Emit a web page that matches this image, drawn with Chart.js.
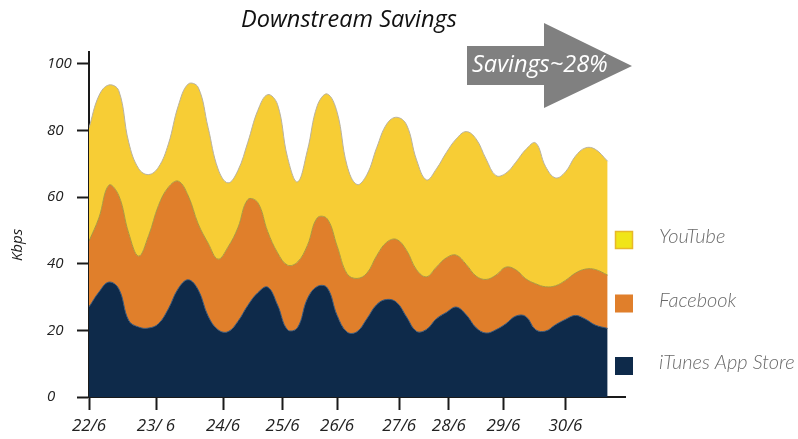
<!DOCTYPE html>
<html>
<head>
<meta charset="utf-8">
<style>
  html, body { margin: 0; padding: 0; background: #ffffff; }
  #wrap { width: 798px; height: 439px; position: relative; }
</style>
<script src="https://cdn.jsdelivr.net/npm/chart.js@4.4.1/dist/chart.umd.min.js"></script>
</head>
<body>
<div id="wrap"><canvas id="c" width="798" height="439"></canvas></div>
<script>
// ---- data (hours since 22/6 00:00) ----
const hours = [0,4,8,12,16,20,24,28,32,36,40,44,48,52,56,60,64,68,72,76,80,84,88,92,96,100,104,108,112,116,120,124,128,132,136,140,144,148,152,156,160,164,168,172,176,180,184,188,192,196,200,204,209];
const itunes = [27,31.5,34.5,32.5,23,21,20.7,22,26.5,32.6,35.2,32.2,24.3,20.2,19.6,22.7,27.5,31.3,33,27.6,20.2,20.8,29.5,33.2,32.8,24.5,19.5,19.6,23.5,27.8,29.3,28.4,24,19.7,20.3,23.5,25.4,27,24.7,20.8,19.2,20.2,22,24.3,24.2,20.2,19.8,21.7,23.3,24.5,23.4,21.6,20.6];
const facebook = [19.8,22.3,29.1,28,26.2,21.3,27.7,35.5,36.5,32.2,25.2,19.8,21.9,21.2,25.4,28.1,31.8,27.1,16.7,15.7,19.4,19.7,16,20.6,20.7,20.8,17.5,16,13.7,14.7,17.2,18.9,20,18.5,15.8,15.5,16.4,15.6,15.1,15.5,16.1,16.4,17,13.9,11.3,13.8,13.3,11.7,11.7,12.7,15,16.7,16];
const youtube = [34,36.7,30.1,31.5,27.3,26.3,18.4,11.5,13,22.7,33.6,41,34.7,27.1,19.3,17.2,17.2,27.6,41.1,44.5,32.4,24.1,28.5,33.7,37.5,40.2,32.5,28.2,29.6,32.5,35.5,36.7,37.7,33,29.1,29.5,31.6,34.9,39.9,41.2,36.2,29.9,28.2,32.3,38.8,42.3,36.1,32.4,32.6,35.1,36.4,36.1,34.2];
const tickHours = [0,27,54,78,100,125,145,167,192];
const tickLabels = ['22/6','23/ 6','24/6','25/6','26/6','27/6','28/6','29/6','30/6'];
const yTicks = [0,20,40,60,80,100];
const seriesNames = ['iTunes App Store','Facebook','YouTube'];
const titleText = 'Downstream Savings';
const arrowText = 'Savings~28%';
const yTitle = 'Kbps';

const AXIS = '#1a1a1a';
const TXT = '#222222';

function pts(arr){ return hours.map((h,i)=>({x:h, y:arr[i]})); }

const extras = {
  id: 'extras',
  afterDraw(chart){
    const ctx = chart.ctx;
    ctx.save();
    // title
    ctx.fillStyle = '#111';
    ctx.font = 'italic 23.5px "Open Sans"';
    ctx.textAlign = 'center';
    ctx.textBaseline = 'middle';
    ctx.fillText(titleText, 349, 20);
    // y title
    ctx.save();
    ctx.translate(18, 245);
    ctx.rotate(-Math.PI/2);
    ctx.font = 'italic 15px "Open Sans"';
    ctx.fillStyle = TXT;
    ctx.fillText(yTitle, 0, 0);
    ctx.restore();
    // arrow
    ctx.fillStyle = '#808080';
    ctx.beginPath();
    ctx.moveTo(467, 46);
    ctx.lineTo(544, 46);
    ctx.lineTo(544, 23);
    ctx.lineTo(632, 66);
    ctx.lineTo(544, 108);
    ctx.lineTo(544, 85);
    ctx.lineTo(467, 85);
    ctx.closePath();
    ctx.fill();
    ctx.fillStyle = '#ffffff';
    ctx.font = 'italic 23.5px "Open Sans"';
    ctx.textAlign = 'left';
    ctx.fillText(arrowText, 472, 65);
    // legend
    const ds = chart.data.datasets;
    const order = [2,1,0];
    const ys = [240, 303.5, 366];
    order.forEach((di,k)=>{
      const d = ds[di];
      const cy = ys[k];
      ctx.fillStyle = d.legendFill || d.backgroundColor;
      ctx.fillRect(615, cy-9, 18, 18);
      if (d.legendStroke){
        ctx.strokeStyle = d.legendStroke;
        ctx.lineWidth = 1.5;
        ctx.strokeRect(615.5, cy-8.5, 17, 17);
      }
      ctx.fillStyle = '#6a6a6a';
      ctx.font = 'italic 300 20px Lato';
      ctx.textAlign = 'left';
      ctx.textBaseline = 'middle';
      ctx.fillText(d.label, 659, cy-3);
    });
    ctx.restore();
  }
};

new Chart(document.getElementById('c'), {
  type: 'line',
  data: {
    datasets: [
      { label: seriesNames[0], data: pts(itunes), backgroundColor: '#0e2a4a', borderColor: '#3a5675', borderWidth: 1, fill: 'origin' },
      { label: seriesNames[1], data: pts(facebook), backgroundColor: '#e07f2b', borderColor: '#a99a3c', borderWidth: 1, fill: '-1' },
      { label: seriesNames[2], data: pts(youtube), backgroundColor: '#f7cd35', borderColor: '#b8b2a0', borderWidth: 1, fill: '-1', legendFill: '#f0e518', legendStroke: '#e8b82a' }
    ]
  },
  options: {
    responsive: false,
    animation: false,
    devicePixelRatio: 1,
    layout: { padding: { left: 47, right: 173, top: 52, bottom: 0 } },
    elements: { point: { radius: 0 }, line: { tension: 0.4 } },
    plugins: { legend: { display: false }, tooltip: { enabled: false }, title: { display: false } },
    scales: {
      x: {
        type: 'linear', min: 0, max: 216,
        border: { display: true, color: AXIS, width: 2 },
        grid: { display: true, drawOnChartArea: false, drawTicks: true, tickLength: 13, tickWidth: 2, tickColor: AXIS },
        ticks: { autoSkip: false, maxRotation: 0, color: TXT, padding: 6,
          font: { family: 'Open Sans', style: 'italic', size: 17 },
          callback: (v, i) => tickLabels[i] },
        afterBuildTicks: s => { s.ticks = tickHours.map(v => ({ value: v })); },
        afterFit: s => { s.height = 42; }
      },
      y: {
        type: 'linear', min: 0, max: 103.6, stacked: true,
        border: { display: true, color: AXIS, width: 2 },
        grid: { display: true, drawOnChartArea: false, drawTicks: true, tickLength: 12, tickWidth: 2, tickColor: AXIS },
        ticks: { color: TXT, padding: 5, crossAlign: 'far',
          font: { family: 'Open Sans', style: 'italic', size: 15 } },
        afterBuildTicks: s => { s.ticks = yTicks.map(v => ({ value: v })); },
        afterFit: s => { s.width = 42; }
      }
    }
  },
  plugins: [extras]
});
</script>
</body>
</html>
